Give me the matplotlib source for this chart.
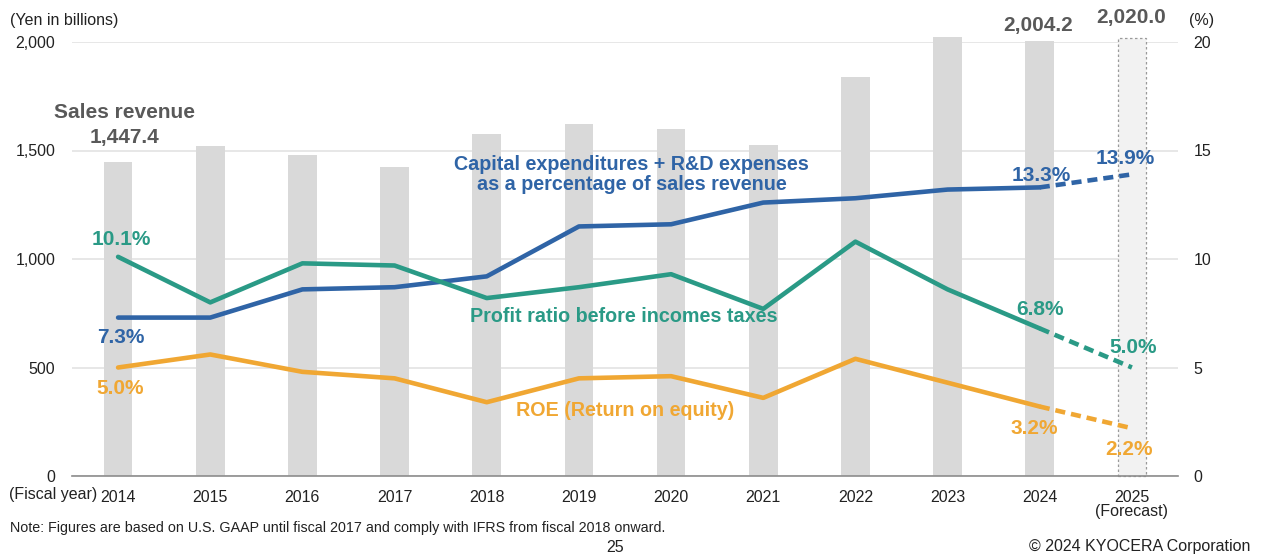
import numpy as np
import matplotlib
matplotlib.use('Agg')
import matplotlib.pyplot as plt

# ---------------------------------------------------------
# data
# ---------------------------------------------------------
years = ['2014', '2015', '2016', '2017', '2018', '2019', '2020',
         '2021', '2022', '2023', '2024', '2025\n(Forecast)']
sales = [1447.4, 1522.6, 1479.6, 1422.8, 1577.0, 1623.7, 1599.1,
         1526.9, 1838.9, 2025.3, 2004.2, 2020.0]
capex_rd = [7.3, 7.3, 8.6, 8.7, 9.2, 11.5, 11.6, 12.6, 12.8, 13.2, 13.3, 13.9]
profit_ratio = [10.1, 8.0, 9.8, 9.7, 8.2, 8.7, 9.3, 7.7, 10.8, 8.6, 6.8, 5.0]
roe = [5.0, 5.6, 4.8, 4.5, 3.4, 4.5, 4.6, 3.6, 5.4, 4.3, 3.2, 2.2]

left_ticks = [0, 500, 1000, 1500, 2000]
right_ticks = [0, 5, 10, 15, 20]

BLUE = '#2F64A6'
GREEN = '#2A9A86'
ORANGE = '#F0A733'
GRAY_TXT = '#595959'
TXT = '#222222'

plt.rcParams['font.family'] = ['Liberation Sans', 'DejaVu Sans']

fig = plt.figure(figsize=(12.63, 5.57), dpi=100)
ax = fig.add_axes([72 / 1263, 1 - 476 / 557, (1178 - 72) / 1263, (476 - 42) / 557])
ax2 = ax.twinx()

x = np.arange(len(years))

# bars: actual years solid, forecast year light with dashed outline
ax.bar(x[:-1], sales[:-1], width=0.31, color='#D9D9D9', clip_on=False, zorder=2)
ax.bar(x[-1], sales[-1], width=0.31, color='#F2F2F2', edgecolor='#9A9A9A',
       linestyle=(0, (2, 2)), linewidth=0.9, clip_on=False, zorder=2)

ax.set_xlim(-0.5, len(years) - 0.5)
ax.set_ylim(0, 2000)
ax.set_yticks(left_ticks)
ax.set_yticklabels([f'{v:,}' for v in left_ticks], fontsize=11.5, color=TXT)
ax.set_xticks(x)
ax.set_xticklabels(years, fontsize=11.5, color=TXT, linespacing=0.9)
ax.tick_params(axis='y', length=0, pad=12)
ax.tick_params(axis='x', length=0, pad=10)
ax.grid(axis='y', color='#E3E3E3', linewidth=1.2, zorder=0)
ax.set_axisbelow(True)
for s in ['top', 'right', 'left']:
    ax.spines[s].set_visible(False)
ax.spines['bottom'].set_color('#8C8C8C')
ax.spines['bottom'].set_linewidth(1.2)

ax2.set_ylim(0, 20)
ax2.set_yticks(right_ticks)
ax2.set_yticklabels([str(v) for v in right_ticks], fontsize=11.5, color=TXT)
ax2.tick_params(axis='y', length=0, pad=11)
for s in ['top', 'right', 'left', 'bottom']:
    ax2.spines[s].set_visible(False)

# lines: solid up to 2024, dashed to the forecast
for vals, col in [(capex_rd, BLUE), (profit_ratio, GREEN), (roe, ORANGE)]:
    ax2.plot(x[:-1], vals[:-1], color=col, linewidth=3.3, solid_capstyle='round',
             solid_joinstyle='round', zorder=5)
    ax2.plot(x[-2:], vals[-2:], color=col, linewidth=3.3, linestyle=(0, (2.2, 1.3)),
             zorder=5)

bold = dict(fontweight='bold', ha='center', va='center')

# series names
ax2.text(5.57, 13.9, 'Capital expenditures + R&D expenses\nas a percentage of sales revenue',
         color=BLUE, fontsize=14.2, linespacing=1.1, **bold)
ax2.text(5.49, 7.37, 'Profit ratio before incomes taxes', color=GREEN, fontsize=14.2, **bold)
ax2.text(5.5, 3.04, 'ROE (Return on equity)', color=ORANGE, fontsize=14.2, **bold)

# value labels
ax2.text(0.03, 10.88, f'{profit_ratio[0]:.1f}%', color=GREEN, fontsize=15, **bold)
ax2.text(0.03, 6.36, f'{capex_rd[0]:.1f}%', color=BLUE, fontsize=15, **bold)
ax2.text(0.02, 4.05, f'{roe[0]:.1f}%', color=ORANGE, fontsize=15, **bold)
ax2.text(10.02, 13.87, f'{capex_rd[10]:.1f}%', color=BLUE, fontsize=15, **bold)
ax2.text(10.93, 14.65, f'{capex_rd[11]:.1f}%', color=BLUE, fontsize=15, **bold)
ax2.text(10.0, 7.65, f'{profit_ratio[10]:.1f}%', color=GREEN, fontsize=15, **bold)
ax2.text(11.01, 5.94, f'{profit_ratio[11]:.1f}%', color=GREEN, fontsize=15, **bold)
ax2.text(9.94, 2.21, f'{roe[10]:.1f}%', color=ORANGE, fontsize=15, **bold)
ax2.text(10.97, 1.2, f'{roe[11]:.1f}%', color=ORANGE, fontsize=15, **bold)

ax.text(0.07, 1673, 'Sales revenue', color=GRAY_TXT, fontsize=15, **bold)
ax.text(0.07, 1562, f'{sales[0]:,.1f}', color=GRAY_TXT, fontsize=15, **bold)
ax.text(9.98, 2078, f'{sales[10]:,.1f}', color=GRAY_TXT, fontsize=15, clip_on=False, **bold)
ax.text(10.99, 2115, f'{sales[11]:,.1f}', color=GRAY_TXT, fontsize=15, clip_on=False, **bold)

# surrounding texts
fig.text(10 / 1263, 1 - 20 / 557, '(Yen in billions)', fontsize=11.5, va='center', color=TXT)
fig.text(1189 / 1263, 1 - 20 / 557, '(%)', fontsize=11.5, va='center', color=TXT)
fig.text(9 / 1263, 1 - 495 / 557, '(Fiscal year)', fontsize=11.5, va='center', color=TXT)
fig.text(10 / 1263, 1 - 528 / 557,
         'Note: Figures are based on U.S. GAAP until fiscal 2017 and comply with IFRS from fiscal 2018 onward.',
         fontsize=10.3, va='center', color=TXT)
fig.text(615 / 1263, 1 - 548 / 557, '25', fontsize=11.5, ha='center', va='center', color=TXT)
fig.text(1250 / 1263, 1 - 547 / 557, '\u00a9 2024 KYOCERA Corporation', fontsize=11.5,
         ha='right', va='center', color=TXT)

fig.savefig('out.png', dpi=100)
